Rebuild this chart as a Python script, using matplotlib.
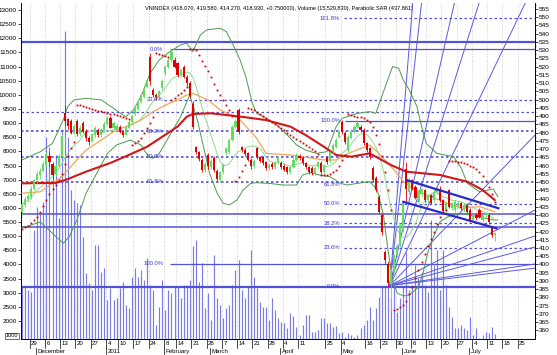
import numpy as np
import pandas as pd
import matplotlib
matplotlib.use("Agg")
import matplotlib.pyplot as plt
from matplotlib.transforms import blended_transform_factory

plt.rcParams["font.family"] = ["Liberation Sans", "DejaVu Sans"]

# HOSE trading calendar, Nov 2010 - Jul 2011 (holidays removed)
HOLIDAYS = pd.to_datetime([
    "2011-01-03", "2011-01-31", "2011-02-01", "2011-02-02", "2011-02-03",
    "2011-02-04", "2011-02-07", "2011-04-12", "2011-05-02", "2011-05-03",
])
CAL = pd.bdate_range("2010-11-24", "2011-07-29")
CAL = CAL[~CAL.isin(HOLIDAYS)]

####################################
# Daily VNINDEX bars
####################################
OPEN = [432, 436, 439.5, 441, 446, 451, 454, 457, 460.5, 466,
        461, 455, 460, 466, 492, 488, 487, 480, 487, 479,
        486, 481, 477, 475, 478.5, 481.5, 478.5, 481.5, 485, 489,
        483, 481.5, 483.5, 480.5, 478.5, 482.5, 486.5, 491, 494.5, 498.5,
        501.5, 507.5, 526, 506, 503, 501.5, 507, 516, 520, 524,
        524, 522, 515, 520, 514, 510, 497.5, 471, 468, 463.5,
        457.5, 466.5, 459, 464.5, 457, 451, 456, 467.5, 468, 475.5,
        483.5, 493.5, 471, 469.5, 467.5, 463.5, 459.5, 470.5, 465, 465,
        462, 458.5, 461, 459, 462, 461.5, 460, 459, 456, 459,
        463.5, 466, 464.5, 461.5, 459, 458.5, 455.5, 459, 461.5, 456,
        465, 462.5, 468, 471.5, 477.5, 486.5, 480, 469.5, 477, 480.5,
        483.5, 483.5, 481.5, 473.5, 470.5, 458.5, 452.5, 441, 430, 407.5,
        400, 388, 396.5, 405.5, 412, 421, 458, 444, 451, 447,
        438, 443, 445, 439, 442, 439, 444, 446, 439, 432.5,
        445, 434, 433, 435, 437, 433, 436, 433, 427, 430,
        433, 427, 430, 430, 422.5, 418.07]
HIGH = [438, 441, 443, 447.5, 452, 456.5, 458.5, 462.5, 468, 468,
        462, 461, 467, 479, 497, 489, 488, 485.5, 488, 484.5,
        487, 482, 478, 480, 484, 483, 483, 487, 490, 490,
        487, 485, 484.5, 481.5, 484, 487.5, 491, 496.5, 500, 504,
        507, 513, 528, 507, 504, 506, 512.5, 521, 525, 531,
        526, 523, 519, 521, 515, 511, 499, 472, 469, 464.5,
        462, 467.5, 464, 465.5, 458, 457, 461.5, 471.5, 476.5, 484.5,
        488, 495, 472, 470.5, 468.5, 464.5, 464, 471.5, 466, 466,
        463, 461.5, 462, 463, 466, 462.5, 461, 460, 460, 464.5,
        467.5, 467, 465.5, 462, 460, 459.5, 459.5, 463, 462.5, 461,
        466, 469, 473.5, 476.5, 481.5, 487.5, 481, 478.5, 482, 484.5,
        487, 484.5, 482.5, 474.5, 471.5, 459.5, 453.5, 442, 431, 409,
        402, 398, 406.5, 412.5, 425, 438.5, 462, 452.5, 452, 448,
        445, 446.5, 446, 443, 443, 445, 447, 447.5, 440, 438,
        446, 438, 439, 438.5, 438, 437, 437, 434, 431, 431,
        434, 431, 432, 431, 423.5, 419.58]
LOW = [430, 435, 438, 440, 445, 449.5, 452, 456, 459.5, 460,
       452, 453.5, 459, 465, 484, 482, 479, 479, 478, 478,
       479.5, 475, 472.5, 474, 477.5, 477.5, 477.5, 481, 484, 482.5,
       482, 480.5, 479.5, 477.5, 478, 482, 485.5, 490, 493.5, 498,
       501, 507, 509, 501.5, 500, 500.5, 506, 515, 519, 523,
       519, 514, 513.5, 513, 508.5, 501, 482, 467, 462.5, 456,
       456, 458, 458, 456, 450.5, 450, 455, 466.5, 467, 475,
       482.5, 479, 468, 466, 462.5, 458, 458.5, 464, 462, 460.5,
       457.5, 457.5, 458, 458, 461, 458, 456.5, 455, 455, 458.5,
       462.5, 463.5, 460.5, 458, 455, 454.5, 454.5, 458, 455, 455,
       461, 461.5, 467, 470.5, 476.5, 479, 473, 468.5, 476, 479.5,
       482.5, 480.5, 472.5, 468.5, 464, 450, 444, 430.5, 418, 400,
       387, 372.5, 395.5, 404.5, 410.5, 420, 437, 443, 445, 439.5,
       437, 441, 438, 437.5, 436.5, 438, 443, 438, 431.5, 431.5,
       434, 433, 432, 434, 433, 432, 431, 426, 426, 427,
       428, 426, 428, 424.5, 416.5, 414.27]
CLOSE = [436.5, 439.5, 441.5, 446, 451, 455, 457, 461, 467, 462,
         454, 460, 466, 478, 487, 484, 480, 484, 479, 483,
         480.5, 476.5, 474, 479, 483, 478.5, 482, 485.5, 489, 483,
         486, 484, 480.5, 478.5, 483, 486.5, 490, 495.5, 498.5, 503,
         506, 512, 511, 503, 501.5, 505, 511.5, 520, 524, 529,
         520, 515, 518, 514, 510, 502, 483.5, 468.5, 464, 457.5,
         461, 459.5, 463, 457.5, 452, 456, 460.5, 470.5, 475.5, 483.5,
         487, 480.5, 469.5, 467, 463.5, 459.5, 463, 465, 463, 461.5,
         458.5, 460.5, 459, 462, 465, 459, 457.5, 456, 459, 463.5,
         466.5, 464.5, 461.5, 459, 456, 455.5, 458.5, 462, 456, 460,
         462, 468, 472.5, 475.5, 480.5, 480.5, 474, 477.5, 481, 483.5,
         486, 481.5, 473.5, 469.5, 465, 451, 445, 432, 419.5, 402.5,
         389, 396.5, 405.5, 411.5, 424, 437.5, 446, 451, 446, 440.5,
         444, 445.5, 439, 442, 437.5, 444, 446, 439, 432.5, 437,
         435, 437, 438, 437.5, 434, 436, 432, 427, 430, 428,
         428.8, 430, 431, 425.5, 418.18, 418.93]
# volume, in 10,000 shares
VOLUME = [3210, 3210, 3100, 3040, 5220, 6040, 5870, 6220, 8520, 8170,
          7050, 7870, 5630, 8800, 12260, 8520, 6630, 6280, 6160, 6100,
          4980, 3690, 3340, 3100, 4690, 4690, 3730, 3880, 2740, 3170,
          2740, 2810, 3170, 3380, 2570, 2460, 3560, 3880, 3560, 3800,
          3450, 4220, 3270, 3100, 1860, 2500, 3450, 2390, 3100, 2990,
          3200, 3200, 2810, 3270, 3270, 3450, 4650, 4860, 3380, 4040,
          2460, 2990, 2040, 4340, 2810, 2570, 2100, 2460, 2570, 3270,
          3800, 4160, 3100, 2810, 3200, 4510, 3560, 3170, 2680, 2500,
          2500, 2040, 2810, 2390, 2110, 1970, 1940, 1740, 2290, 2180,
          1780, 1510, 1860, 2210, 2210, 1620, 1620, 1680, 2090, 2090,
          1940, 1940, 1780, 1820, 1590, 1620, 1450, 1590, 1510, 1450,
          1510, 1740, 1860, 2040, 2510, 2040, 2450, 2860, 3220, 3220,
          3270, 2810, 3220, 2330, 2800, 3220, 4450, 3100, 3270, 3980,
          3510, 3750, 3270, 3040, 5570, 3980, 4510, 3100, 4510, 3270,
          2510, 2150, 1740, 1740, 1860, 1740, 1680, 2150, 1510, 1740,
          1390, 1510, 1620, 1560, 1800, 1553]
SAR = [421.5, 422.5, 423.5, 425, 427, 429, 432, 435.5, 439, 443,
       446, 448.5, 451, 455, 461, 466, 470.5, 474.5, 497, 496.5,
       496, 495.5, 495, 494.3, 493.8, 493.2, 492.8, 492.3, 491.9, 491.5,
       491, 490.5, 490, 489.5, 489, 488.5, 472.5, 473.5, 475, 477,
       479.5, 482.5, 486, 489.5, 528, 527.5, 527, 526.5, 526, 500,
       501.2, 502.7, 504.2, 505.8, 507.4, 531, 531, 530, 527, 523.5,
       520.5, 517.5, 513.5, 509.5, 506, 502.5, 499.5, 496.5, 493.5, 490,
       450.5, 453, 456.5, 460.5, 495, 494.5, 493.5, 492.5, 491.5, 490.3,
       489, 487.8, 486.5, 485.2, 484, 482.8, 481.5, 480, 478.8, 477.5,
       476.3, 475, 473.8, 472.5, 471.2, 470, 468.7, 467.3, 454.5, 454.5,
       454.5, 455, 456, 457.5, 460, 463.5, 466.5, 491, 490.6, 490.1,
       489.6, 489.2, 488.7, 487.8, 486.4, 483.5, 478.5, 473, 466, 456,
       445, 433, 372.5, 373, 374, 375.5, 378, 382, 386.5, 391.5,
       396.5, 401.5, 406.5, 411, 415.5, 420, 424.5, 428.5, 431.5, 433,
       463, 463, 462.7, 462.3, 462, 461.5, 461, 460, 459, 458,
       456, 453.5, 450.5, 447, 443, 437.861]

####################################
# Indicator curves: (bar index, value)
####################################
MA_RED_X = [0, 6, 11, 15, 21, 29, 35, 41, 46, 51, 54, 56, 62, 72, 80, 88,
            93, 99, 103, 108, 114, 121, 126, 137, 146, 151, 155]
MA_RED = [449.2, 449.4, 449.4, 451.8, 456.3, 461.6, 466.4, 471.4, 477.5,
          483.6, 489.6, 491.3, 491.7, 489.6, 487.6, 483.6, 478.5, 471.4,
          466.4, 465.4, 467.4, 460.3, 456.3, 454.3, 450.2, 445.2, 439.1]
MA_ORANGE_X = [0, 6, 10, 13, 17, 21, 26, 30, 34, 39, 43, 47, 51, 54, 56,
               61, 65, 71, 77, 80, 88, 99, 103, 107, 114, 117, 122, 125,
               130, 138, 144, 150, 155]
MA_ORANGE = [443.2, 444.1, 449.2, 453.2, 461.4, 469.4, 475.5, 480.5, 483.6,
             487.6, 492.7, 496.7, 499.8, 502.8, 503.8, 499.8, 493.7, 488.7,
             476.5, 467.4, 466.4, 463.4, 463.4, 467.4, 472.5, 467.4, 457.3,
             450.2, 444.1, 438.1, 434.1, 435.1, 432.0]
BB_UP_X = [0, 6, 10, 13.5, 15, 17, 21, 26, 30, 34, 36.5, 39, 42, 45, 48.5,
           52, 54, 56, 58.5, 60.5, 65, 67, 69.5, 71.5, 73.5, 75.5, 77, 80,
           83.5, 87, 90, 93, 96.5, 100, 103, 105, 110, 114, 116, 119.5,
           121.5, 123.5, 125, 127, 129.5, 130.5, 132.5, 136, 141.5, 144,
           146, 150, 154.5, 156]
BB_UP = [463.4, 468.4, 473.5, 487.6, 495.7, 499.8, 500.8, 499.8, 494.7,
         489.6, 493.7, 501.8, 516.0, 524.1, 529.1, 533.2, 534.2, 529.1,
         539.2, 542.3, 543.3, 541.2, 532.1, 524.1, 513.1, 497.8, 491.7,
         488.7, 484.6, 478.5, 472.5, 469.4, 467.4, 468.4, 483.6, 488.7,
         491.7, 492.7, 491.7, 509.9, 520.0, 519.0, 511.9, 505.8, 495.7,
         487.6, 473.5, 467.4, 465.4, 458.5, 449.2, 444.1, 445.8, 441.1]
BB_LOW_X = [0, 6, 10, 13.5, 15.5, 18, 21, 24.5, 28, 31, 35.5, 39, 41.5, 43,
            45, 48.5, 52, 55, 57.5, 59.5, 61.5, 64, 66, 68, 70.5, 72.5, 75,
            77, 81, 85.5, 90, 92, 94.5, 97.5, 101, 104.5, 106.5, 110, 114,
            116.5, 118.5, 120, 121.5, 123, 125, 127, 130, 131.5, 133, 134.5,
            137, 139.5, 143.5, 150, 154.5, 156]
BB_LOW = [422.1, 425.8, 418.9, 412.8, 416.8, 427.0, 443.2, 455.3, 467.4,
          472.5, 475.5, 472.5, 465.4, 464.4, 467.4, 478.5, 489.6, 502.8,
          487.6, 471.4, 455.3, 443.2, 437.1, 436.1, 439.1, 445.2, 449.2,
          449.6, 449.2, 448.2, 448.2, 454.3, 455.7, 454.3, 453.2, 449.2,
          448.2, 449.2, 450.2, 445.2, 430.0, 408.8, 390.6, 382.7, 380.9,
          381.5, 386.3, 394.8, 406.9, 414.8, 425.8, 428.8, 431.2, 428.8,
          427.0, 427.0]

####################################
# Drawing tools on the chart
####################################
FIB1 = (530.5, 400.3)          # 0% and 100% of the first retracement
FIB2 = (386.5, 487.2)          # 0% and 100% of the May-low retracement
FIB_RATIOS = [0.0, 0.236, 0.382, 0.5, 0.618, 1.0, 1.618]
EXTRA_SOLID = [535.2, 430.6, 423.0]
EXTRA_DASHED = [492.3]
FAN_ORIGIN = (120.6, 387.2)
FAN_END_X = [128.2, 131.1, 142.0, 150.2, 165.5, 168.2, 168.2, 168.2, 168.2, 168.2, 168.2]
FAN_END_P = [560.5, 560.5, 560.5, 560.5, 560.5, 478.5, 433.0, 417.3, 410.6, 400.3, 397.8]
CHANNEL_X = [[126.1, 156.2], [125.0, 155.6]]
CHANNEL_P = [[451.2, 434.1], [438.0, 421.9]]

WEEK_TICKS = ["2010-11-29", "2010-12-06", "2010-12-13", "2010-12-20", "2010-12-27",
              "2011-01-04", "2011-01-10", "2011-01-17", "2011-01-24", "2011-02-08",
              "2011-02-14", "2011-02-21", "2011-02-28", "2011-03-07", "2011-03-14",
              "2011-03-21", "2011-03-28", "2011-04-04", "2011-04-11", "2011-04-25",
              "2011-05-04", "2011-05-16", "2011-05-23", "2011-05-30", "2011-06-06",
              "2011-06-13", "2011-06-20", "2011-06-27", "2011-07-04", "2011-07-11",
              "2011-07-18", "2011-07-25"]
MONTH_TICKS = ["2010-12-01", "2011-01-04", "2011-02-08", "2011-03-01",
               "2011-04-01", "2011-05-04", "2011-06-01", "2011-07-01"]
MONTH_NAMES = ["December", "2011", "February", "March", "April", "May", "June", "July"]

BLUE = "#5252d8"
LBLUE = "#7c7ce8"
XL, XR = -0.33, 168.2


def pos(day):
    return CAL.get_loc(pd.Timestamp(day))


def main():
    x = np.arange(len(CLOSE))
    o, h, l, c = map(np.array, (OPEN, HIGH, LOW, CLOSE))

    fig = plt.figure(figsize=(5.57, 3.55), dpi=100)
    ax = fig.add_axes([21 / 557, 16 / 355, 514 / 557, 336 / 355])
    axp = ax.twinx()

    ax.set_xlim(XL, XR)
    ax.set_ylim(1363, 13249)
    axp.set_ylim(354.8, 558.6)

    # volume
    ax.vlines(x, 0, VOLUME, color=LBLUE, lw=0.85, zorder=1)

    # weekly grid
    for d in WEEK_TICKS:
        ax.axvline(pos(d) - 0.5, color="#bdbdbd", ls=(0, (1, 2)), lw=0.6, zorder=0)

    # horizontal levels
    full = dict(xmin=XL, xmax=XR)
    for p in EXTRA_SOLID:
        axp.hlines(p, lw=1.6 if p > 500 else 1.1, color=BLUE, zorder=2, **full)
    for p in EXTRA_DASHED:
        axp.hlines(p, ls=(0, (2, 2)), lw=0.9, color=BLUE, zorder=2, **full)

    f1 = [FIB1[0] + r * (FIB1[1] - FIB1[0]) for r in FIB_RATIOS[:6]]
    f2 = [FIB2[0] + r * (FIB2[1] - FIB2[0]) for r in FIB_RATIOS]
    lbl = dict(fontsize=4.2, color="#3a3ad0", ha="right", va="center", zorder=6)
    # first set
    for r, p in zip(FIB_RATIOS[:6], f1):
        if r in (0.0, 1.0):
            axp.hlines(p, 48.5, XR, color=BLUE, lw=0.9, zorder=2)
        elif r == 0.236:
            axp.hlines(p, 46.5, XR, color=BLUE, lw=0.9, ls=(0, (2, 2)), zorder=2)
        else:
            axp.hlines(p, XL, XR, color=BLUE, lw=1.2, ls=(0, (1.5, 1.5)), zorder=2)
        axp.text(46.3, p, f"{r * 100:.1f}%", **lbl)
    # second set
    for r, p in zip(FIB_RATIOS, f2):
        if r == 0.0:
            axp.hlines(p, XL, XR, color=BLUE, lw=1.6, zorder=2)
        elif r == 1.0:
            axp.hlines(p, 106, XR, color=BLUE, lw=0.9, zorder=2)
        elif r != 0.618:
            axp.hlines(p, 105.5, XR, color=BLUE, lw=0.9, ls=(0, (2, 2)), zorder=2)
        axp.text(104.3, p, f"{r * 100:.1f}%", **lbl)

    # fan and channel
    for ex, ep in zip(FAN_END_X, FAN_END_P):
        axp.plot([FAN_ORIGIN[0], ex], [FAN_ORIGIN[1], ep], color="#5a5ae0", lw=0.7, zorder=3)
    for cx, cp in zip(CHANNEL_X, CHANNEL_P):
        axp.plot(cx, cp, color="#2a2ac8", lw=1.6, zorder=6)

    # bands and averages
    axp.plot(BB_UP_X, BB_UP, color="#4e9a4e", lw=0.7, zorder=3)
    axp.plot(BB_LOW_X, BB_LOW, color="#4e9a4e", lw=0.7, zorder=3)
    ma10 = pd.Series(CLOSE).rolling(10, min_periods=1).mean()
    axp.plot(x, ma10, color="#8fdc8f", lw=0.7, zorder=3)
    axp.plot(MA_ORANGE_X, MA_ORANGE, color="#f2a55a", lw=0.9, zorder=3)
    axp.plot(MA_RED_X, MA_RED, color="#d01818", lw=1.5, zorder=4)

    # candles
    up = c >= o
    col = np.where(up, "#62dd62", "#e00000")
    axp.vlines(x, l, h, color=col, lw=0.6, zorder=5)
    axp.bar(x, np.maximum(np.abs(c - o), 0.6), bottom=np.minimum(o, c),
            width=0.7, color=col, lw=0, zorder=5)

    # parabolic SAR
    axp.plot(x, SAR, ls="none", marker="s", ms=1.3, mew=0, color="#d00000", zorder=6)

    # axes styling
    for a in (ax, axp):
        a.spines["top"].set_visible(False)
        a.set_xticks([])
    ax.set_yticks(np.arange(2000, 13001, 500))
    ax.set_yticklabels([str(v) for v in range(2000, 13001, 500)])
    ax.tick_params(axis="y", labelsize=4.6, length=2, width=0.5, pad=1)
    ax.text(-0.005, 0.01, "1000", transform=ax.transAxes, fontsize=4.0, ha="right",
            va="center", bbox=dict(boxstyle="square,pad=0.1", fc="white", ec="black", lw=0.4))
    axp.set_yticks(np.arange(360, 556, 5))
    axp.set_yticks(np.arange(357.5, 558, 2.5), minor=True)
    axp.tick_params(axis="y", labelsize=4.6, length=2, width=0.5, pad=1)
    axp.tick_params(axis="y", which="minor", length=1, width=0.4)
    for a in (ax, axp):
        for s in a.spines.values():
            s.set_linewidth(0.6)

    # date strip
    tr = blended_transform_factory(ax.transData, ax.transAxes)
    for d in WEEK_TICKS:
        t = pos(d) - 0.5
        ax.plot([t, t], [0, -0.026], transform=tr, color="black", lw=0.5, clip_on=False)
        ax.text(t + 0.5, -0.013, str(pd.Timestamp(d).day), transform=tr,
                fontsize=4.4, ha="left", va="center")
    for d, name in zip(MONTH_TICKS, MONTH_NAMES):
        t = pos(d) - 0.5
        ax.plot([t, t], [-0.026, -0.046], transform=tr, color="black", lw=0.5, clip_on=False)
        ax.text(t + 0.6, -0.037, name, transform=tr, fontsize=4.4, ha="left", va="center")

    ax.text(0.241, 0.985,
            "VNINDEX (418.070, 419.580, 414.270, 418.930, +0.750000), "
            "Volume (15,529,830), Parabolic SAR (437.861)",
            transform=ax.transAxes, fontsize=4.0, ha="left", va="center",
            family=["Liberation Sans Narrow", "Liberation Sans", "DejaVu Sans"])

    fig.savefig("out.png", dpi=100)


if __name__ == "__main__":
    main()
